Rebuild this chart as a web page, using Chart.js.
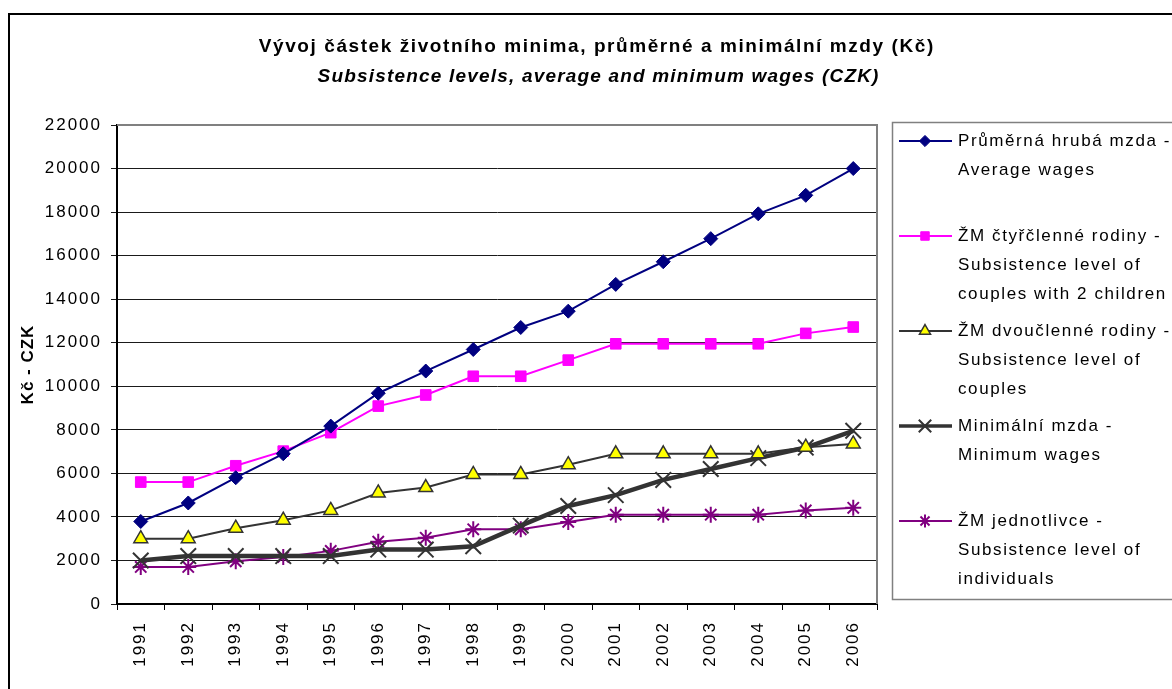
<!DOCTYPE html>
<html>
<head>
<meta charset="utf-8">
<title>Vývoj částek životního minima</title>
<script src="https://cdn.jsdelivr.net/npm/chart.js@4.4.0/dist/chart.umd.min.js"></script>
<style>
    html, body { margin: 0; padding: 0; background: #ffffff; }
    #wrap { width: 1172px; height: 689px; position: relative; }
</style>
</head>
<body>
<div id="wrap"><canvas id="wageChart"></canvas></div>
<script>
// categories and values
const years = ['1991', '1992', '1993', '1994', '1995', '1996', '1997', '1998',
               '1999', '2000', '2001', '2002', '2003', '2004', '2005', '2006'];

const averageWages = [3790, 4640, 5800, 6900, 8170, 9680, 10700, 11690, 12700, 13450, 14680, 15720, 16780, 17920, 18770, 20000];
const familyOfFour = [5600, 5600, 6350, 7020, 7870, 9090, 9600, 10460, 10460, 11200, 11950, 11950, 11950, 11950, 12430, 12720];
const couples      = [3000, 3000, 3480, 3850, 4300, 5100, 5350, 5950, 5950, 6400, 6900, 6900, 6900, 6900, 7200, 7350];
const minimumWages = [2000, 2200, 2200, 2200, 2200, 2500, 2500, 2650, 3600, 4500, 5000, 5700, 6200, 6700, 7185, 7955];
const individuals  = [1700, 1700, 1960, 2160, 2440, 2860, 3040, 3430, 3430, 3770, 4100, 4100, 4100, 4100, 4300, 4420];

const yTicks = [0, 2000, 4000, 6000, 8000, 10000, 12000, 14000, 16000, 18000, 20000, 22000];

const titleLines = ['Vývoj částek životního minima, průměrné a minimální mzdy (Kč)',
                    'Subsistence levels, average and minimum wages (CZK)'];
const yAxisTitle = 'Kč - CZK';

const legendLines = [
    ['Průměrná hrubá mzda -', 'Average wages'],
    ['ŽM čtyřčlenné rodiny -', 'Subsistence level of', 'couples with 2 children'],
    ['ŽM dvoučlenné rodiny -', 'Subsistence level of', 'couples'],
    ['Minimální mzda -', 'Minimum wages'],
    ['ŽM jednotlivce -', 'Subsistence level of', 'individuals']
];

const FONT = '"Liberation Sans", Arial, sans-serif';

// spread (or squeeze) a centred line of text to the width it has in the original
function fillFitted(ctx, text, cx, cy, width) {
    ctx.save();
    ctx.letterSpacing = '0px';
    const natural = ctx.measureText(text).width;
    ctx.translate(cx, cy);
    if (natural < width) {
        const ls = (width - natural) / text.length;
        ctx.letterSpacing = ls + 'px';
        ctx.translate(ls / 2, 0); // trailing spacing would shift the centre
    } else {
        ctx.scale(width / natural, 1);
    }
    ctx.fillText(text, 0, 0);
    ctx.restore();
}

// frame, titles and the multi-line legend are drawn by hand
const decorations = {
    id: 'decorations',
    beforeDraw(chart) {
        const ctx = chart.ctx;
        ctx.save();
        ctx.fillStyle = '#ffffff';
        ctx.fillRect(0, 0, chart.width, chart.height);
        ctx.restore();
        // Excel-like loose tracking for the tick labels
        ctx.letterSpacing = '2px';
    },
    afterDraw(chart) {
        const ctx = chart.ctx;
        const area = chart.chartArea;
        ctx.save();

        // outer chart frame (runs off the right and bottom edge)
        ctx.strokeStyle = '#000000';
        ctx.lineWidth = 2;
        ctx.beginPath();
        ctx.moveTo(9, chart.height + 5);
        ctx.lineTo(9, 14);
        ctx.lineTo(chart.width + 5, 14);
        ctx.stroke();

        // plot area border, top and right
        ctx.strokeStyle = '#808080';
        ctx.lineWidth = 2;
        ctx.beginPath();
        ctx.moveTo(area.left, area.top);
        ctx.lineTo(area.right, area.top);
        ctx.lineTo(area.right, area.bottom);
        ctx.stroke();

        // titles
        ctx.fillStyle = '#000000';
        ctx.textAlign = 'center';
        ctx.textBaseline = 'middle';
        ctx.font = 'bold 19px ' + FONT;
        fillFitted(ctx, titleLines[0], 596, 47, 676);
        ctx.font = 'italic bold 19px ' + FONT;
        fillFitted(ctx, titleLines[1], 598, 77, 562);

        // y axis title
        ctx.save();
        ctx.translate(28, (area.top + area.bottom) / 2);
        ctx.rotate(-Math.PI / 2);
        ctx.letterSpacing = '1px';
        ctx.font = 'bold 17px ' + FONT;
        ctx.fillText(yAxisTitle, 0, 0);
        ctx.restore();

        // legend box
        const lx = 892, ly = 122;
        ctx.strokeStyle = '#808080';
        ctx.lineWidth = 1.5;
        ctx.strokeRect(lx + 0.5, ly + 0.5, 400, 477);

        ctx.textAlign = 'left';
        ctx.font = '17px ' + FONT;
        chart.data.datasets.forEach((ds, i) => {
            const y = ly + 19 + i * 95;
            ctx.strokeStyle = ds.borderColor;
            ctx.lineWidth = Math.min(ds.borderWidth, 3.5);
            ctx.beginPath();
            ctx.moveTo(lx + 7, y);
            ctx.lineTo(lx + 60, y);
            ctx.stroke();

            ctx.fillStyle = ds.pointBackgroundColor;
            ctx.strokeStyle = ds.pointBorderColor;
            ctx.lineWidth = ds.pointBorderWidth;
            Chart.helpers.drawPoint(ctx, {
                pointStyle: ds.pointStyle,
                radius: ds.pointRadius * 0.8,
                rotation: 0,
                borderWidth: ds.pointBorderWidth
            }, lx + 33, y);

            ctx.fillStyle = '#000000';
            ctx.letterSpacing = '1.6px';
            legendLines[i].forEach((line, j) => {
                ctx.fillText(line, lx + 66, y + j * 29);
            });
            ctx.letterSpacing = '0px';
        });

        ctx.restore();
    }
};

const ctx = document.getElementById('wageChart').getContext('2d');

new Chart(ctx, {
    type: 'line',
    data: {
        labels: years,
        datasets: [
            {
                label: legendLines[0].join(' '),
                data: averageWages,
                borderColor: '#000080',
                borderWidth: 2,
                pointStyle: 'rectRot',
                pointRadius: 7,
                pointBackgroundColor: '#000080',
                pointBorderColor: '#000080',
                pointBorderWidth: 1
            },
            {
                label: legendLines[1].join(' '),
                data: familyOfFour,
                borderColor: '#ff00ff',
                borderWidth: 2,
                pointStyle: 'rect',
                pointRadius: 7.5,
                pointBackgroundColor: '#ff00ff',
                pointBorderColor: '#ff00ff',
                pointBorderWidth: 1
            },
            {
                label: legendLines[2].join(' '),
                data: couples,
                borderColor: '#333333',
                borderWidth: 2,
                pointStyle: 'triangle',
                pointRadius: 8,
                pointBackgroundColor: '#ffff00',
                pointBorderColor: '#333333',
                pointBorderWidth: 1.5
            },
            {
                label: legendLines[3].join(' '),
                data: minimumWages,
                borderColor: '#333333',
                borderWidth: 4.5,
                pointStyle: 'crossRot',
                pointRadius: 11,
                pointBackgroundColor: '#333333',
                pointBorderColor: '#333333',
                pointBorderWidth: 2
            },
            {
                label: legendLines[4].join(' '),
                data: individuals,
                borderColor: '#800080',
                borderWidth: 2,
                pointStyle: 'star',
                pointRadius: 8,
                pointBackgroundColor: '#800080',
                pointBorderColor: '#800080',
                pointBorderWidth: 2
            }
        ]
    },
    options: {
        responsive: true,
        maintainAspectRatio: false,
        animation: false,
        layout: {
            padding: { top: 125, right: 295, bottom: 0, left: 20 }
        },
        elements: {
            line: { tension: 0 }
        },
        scales: {
            x: {
                offset: true,
                afterFit: (scale) => { scale.height = 85; },
                grid: {
                    offset: true,
                    drawOnChartArea: false,
                    drawTicks: true,
                    tickLength: 6,
                    color: '#000000'
                },
                border: { display: true, color: '#000000', width: 2 },
                ticks: {
                    autoSkip: false,
                    minRotation: 90,
                    maxRotation: 90,
                    padding: 11,
                    color: '#000000',
                    font: { family: FONT, size: 17 }
                }
            },
            y: {
                min: 0,
                max: 22000,
                afterFit: (scale) => { scale.width = 97; },
                afterBuildTicks: (scale) => { scale.ticks = yTicks.map(v => ({ value: v })); },
                grid: {
                    color: '#1a1a1a',
                    lineWidth: 1,
                    drawTicks: true,
                    tickLength: 6
                },
                border: { display: true, color: '#000000', width: 2 },
                ticks: {
                    padding: 9,
                    color: '#000000',
                    font: { family: FONT, size: 17 },
                    callback: (value) => String(value)
                }
            }
        },
        plugins: {
            legend: { display: false },
            title: { display: false },
            tooltip: { enabled: false }
        }
    },
    plugins: [decorations]
});
</script>
</body>
</html>
